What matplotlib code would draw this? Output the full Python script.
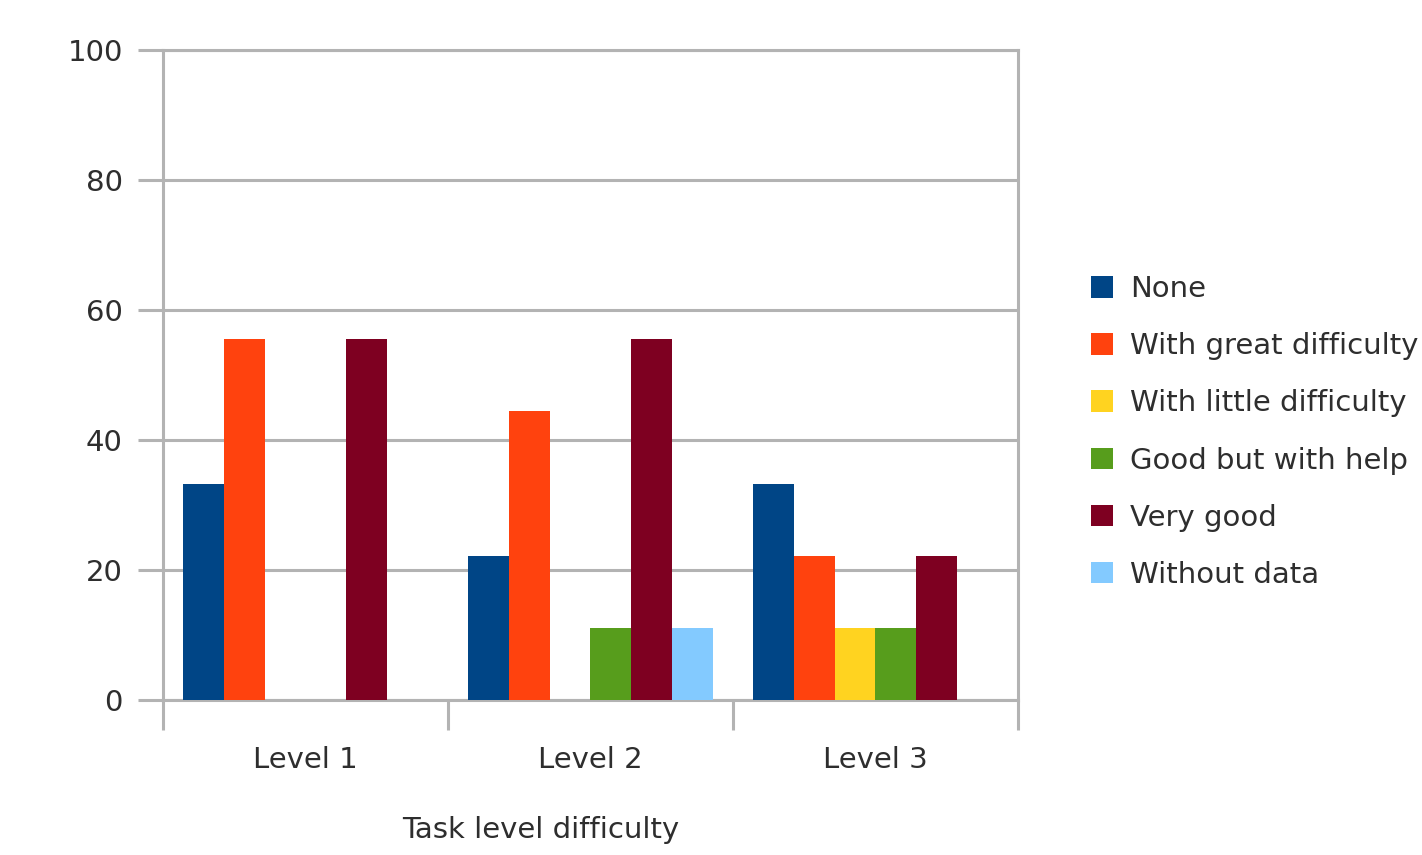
import matplotlib.pyplot as plt
import numpy as np

# data (percent)
levels = ["Level 1", "Level 2", "Level 3"]
series_names = ["None", "With great difficulty", "With little difficulty",
                "Good but with help", "Very good", "Without data"]
none_vals = [33.3, 22.2, 33.3]
great_vals = [55.6, 44.4, 22.2]
little_vals = [0, 0, 11.1]
help_vals = [0, 11.1, 11.1]
very_good_vals = [55.6, 55.6, 22.2]
no_data_vals = [0, 11.1, 0]
colors = ["#004586", "#ff420e", "#ffd320", "#579d1c", "#7e0021", "#83caff"]

plt.rcParams["font.family"] = ["DejaVu Sans"]
text_color = "#2e2e2e"
grid_color = "#b3b3b3"
fs = 21

fig = plt.figure(figsize=(14.22, 8.55), dpi=100)
ax = fig.add_axes([163 / 1422, 1 - 700 / 855, (1018 - 163) / 1422, 650 / 855])

all_series = [none_vals, great_vals, little_vals, help_vals, very_good_vals, no_data_vals]
n = len(all_series)
width = 0.143
start = (1 - n * width) / 2
x = np.arange(len(levels))
for k, (name, vals, c) in enumerate(zip(series_names, all_series, colors)):
    ax.bar(x + start + k * width, vals, width=width, align="edge",
           color=c, label=name, zorder=3)

ax.set_xlim(0, len(levels))
ax.set_ylim(0, 100)
ax.set_yticks(range(0, 101, 20))
ax.yaxis.grid(True, color=grid_color, linewidth=2.2, zorder=0)
ax.set_axisbelow(True)

# category labels at centers, boundary ticks as minor ticks
ax.set_xticks(x + 0.5)
ax.set_xticklabels(levels)
ax.set_xticks(np.arange(len(levels) + 1), minor=True)
ax.tick_params(axis="x", which="major", length=0, pad=33,
               labelsize=fs, labelcolor=text_color)
ax.tick_params(axis="x", which="minor", length=21.6, width=2.2, color=grid_color)
ax.tick_params(axis="y", length=18, width=2.2, color=grid_color, pad=11,
               labelsize=fs, labelcolor=text_color)

for s in ax.spines.values():
    s.set_color(grid_color)
    s.set_linewidth(2.2)

ax.text((541 - 163) / 855, -(830 - 700) / 650, "Task level difficulty",
        transform=ax.transAxes, ha="center", va="center",
        fontsize=fs, color=text_color)

leg = ax.legend(loc="upper left", bbox_to_anchor=((1091 - 163) / 855, (700 - 275) / 650),
                frameon=False, fontsize=fs, handlelength=0.75, handleheight=0.75,
                handletextpad=0.6, labelspacing=1.0, borderpad=0, borderaxespad=0)
for t in leg.get_texts():
    t.set_color(text_color)

fig.savefig("out.png", dpi=100)
